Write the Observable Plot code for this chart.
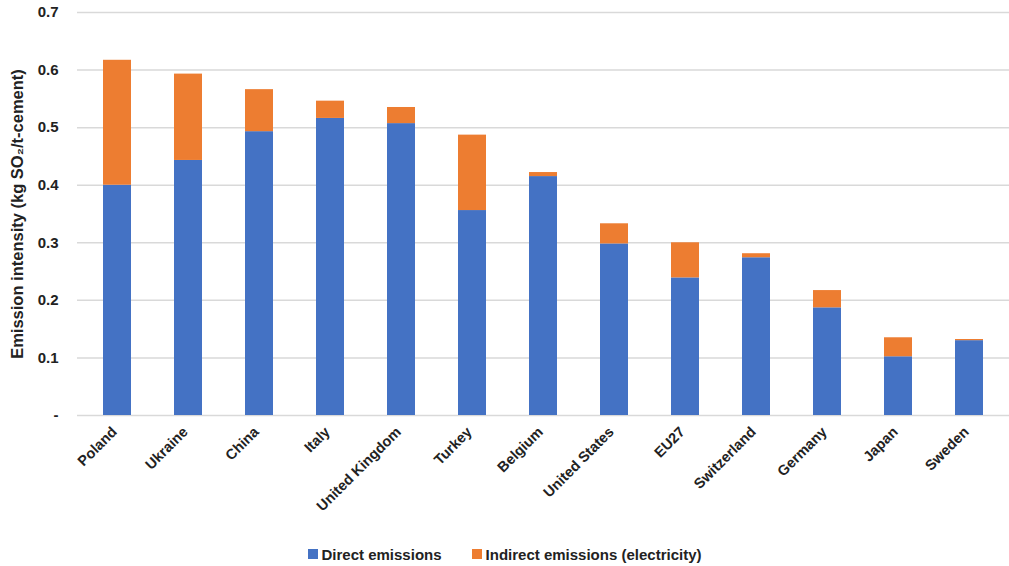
<!DOCTYPE html>
<html>
<head>
<meta charset="utf-8">
<script src="https://cdn.jsdelivr.net/npm/d3@7"></script>
<script src="https://cdn.jsdelivr.net/npm/@observablehq/plot@0.6"></script>
<style>
  html, body { margin: 0; padding: 0; background: #fff; }
  body { width: 1009px; height: 566px; overflow: hidden; font-family: "Liberation Sans", Arial, sans-serif; }
  #legend { display: flex; justify-content: center; align-items: center; gap: 30px; height: 28px; font-size: 15px; font-weight: bold; color: #222; margin-left: 0px; }
  #legend .item { display: flex; align-items: center; gap: 4px; }
  #legend .sw { width: 10px; height: 10px; display: inline-block; }
</style>
</head>
<body>
<div id="chart"></div>
<div id="legend"></div>
<script>
const countries = ["Poland", "Ukraine", "China", "Italy", "United Kingdom", "Turkey", "Belgium", "United States", "EU27", "Switzerland", "Germany", "Japan", "Sweden"];
const direct   = [0.400, 0.443, 0.493, 0.516, 0.507, 0.356, 0.415, 0.298, 0.239, 0.274, 0.187, 0.102, 0.130];
const indirect = [0.217, 0.150, 0.073, 0.030, 0.028, 0.131, 0.007, 0.035, 0.061, 0.007, 0.030, 0.033, 0.002];
const seriesNames = ["Direct emissions", "Indirect emissions (electricity)"];
const seriesColors = ["#4472C4", "#ED7D31"];
const yTicks = [0, 0.1, 0.2, 0.3, 0.4, 0.5, 0.6, 0.7];

const data = [];
countries.forEach((c, i) => {
  data.push({country: c, series: seriesNames[0], value: direct[i]});
  data.push({country: c, series: seriesNames[1], value: indirect[i]});
});

const chart = Plot.plot({
  width: 1009,
  height: 540,
  marginLeft: 77,
  marginRight: 0,
  marginTop: 12,
  marginBottom: 125,
  style: {fontFamily: "'Liberation Sans', Arial, sans-serif", fontWeight: "bold", fontSize: "13px", color: "#222"},
  x: {domain: countries, paddingInner: 0.6, paddingOuter: 0.3, label: null},
  y: {domain: [0, 0.7], label: null},
  color: {domain: seriesNames, range: seriesColors},
  marks: [
    Plot.ruleY(yTicks, {stroke: "#d9d9d9", strokeWidth: 1.5}),
    Plot.barY(data, {x: "country", y: "value", fill: "series", order: seriesNames}),
    Plot.axisY({ticks: yTicks, tickSize: 0, tickPadding: 19, tickFormat: d => d === 0 ? "-" : d.toFixed(1), label: null, fontSize: 15}),
    Plot.axisX({tickSize: 0, tickRotate: -45, tickPadding: 14, dx: -3, label: null, fontSize: 14.5, textAnchor: "end"}),
    Plot.text(["Emission intensity (kg SO₂/t-cement)"], {frameAnchor: "left", dx: -60, rotate: -90, fontSize: 16.5, fontWeight: "bold", textAnchor: "middle"})
  ]
});
document.getElementById("chart").appendChild(chart);

const legend = document.getElementById("legend");
seriesNames.forEach((n, i) => {
  const it = document.createElement("div");
  it.className = "item";
  const sw = document.createElement("span");
  sw.className = "sw";
  sw.style.background = seriesColors[i];
  const t = document.createElement("span");
  t.textContent = n;
  it.appendChild(sw); it.appendChild(t);
  legend.appendChild(it);
});
</script>
</body>
</html>
